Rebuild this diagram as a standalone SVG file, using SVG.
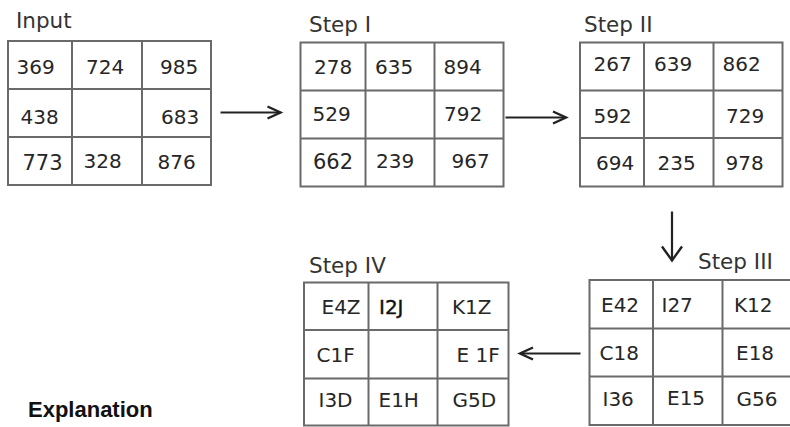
<svg xmlns="http://www.w3.org/2000/svg" width="790" height="427" viewBox="0 0 790 427">
<style>
.grid{fill:#fff;stroke:#6a6a6a;stroke-width:2}
.gl{stroke:#6a6a6a;stroke-width:2}
.c{font-family:"DejaVu Sans",Verdana,sans-serif;font-size:20px;fill:#262626}
.lbl{font-family:"DejaVu Sans",Verdana,sans-serif;font-size:21.5px;fill:#333}
.conn{stroke:#222;stroke-width:2.2;fill:none}
.expl{font-family:"Liberation Sans",Arial,sans-serif;font-size:22px;font-weight:bold;fill:#111}
</style>
<defs>
<marker id="head" markerUnits="userSpaceOnUse" markerWidth="24" markerHeight="24" viewBox="-20 -12 24 24" refX="0" refY="0" orient="auto">
<path d="M-13,-6 L0,0 L-13,6" fill="none" stroke="#222" stroke-width="2.4"/>
</marker>
<marker id="headL" markerUnits="userSpaceOnUse" markerWidth="30" markerHeight="30" viewBox="-20 -15 30 30" refX="0" refY="0" orient="auto">
<path d="M-14,-10 L0,0 L-14,10" fill="none" stroke="#222" stroke-width="2.4"/>
</marker>
</defs>
<rect width="790" height="427" fill="#fff"/>
<g id="input">
<text class="lbl" x="16" y="28">Input</text>
<rect class="grid" x="8" y="41" width="203" height="144"/>
<line class="gl" x1="72" y1="41" x2="72" y2="185"/>
<line class="gl" x1="142" y1="41" x2="142" y2="185"/>
<line class="gl" x1="8" y1="89" x2="211" y2="89"/>
<line class="gl" x1="8" y1="137" x2="211" y2="137"/>
<text class="c" x="16.5" y="74">369</text>
<text class="c" x="86" y="74">724</text>
<text class="c" x="160" y="74">985</text>
<text class="c" x="20.5" y="124">438</text>
<text class="c" x="161" y="124">683</text>
<text class="c" x="22.5" y="169.5" style="font-size:21px">773</text>
<text class="c" x="83.5" y="168">328</text>
<text class="c" x="157.5" y="169">876</text>
</g>
<g id="step1">
<text class="lbl" x="309" y="31.5">Step I</text>
<rect class="grid" x="300.5" y="42.5" width="203" height="144"/>
<line class="gl" x1="365.5" y1="42.5" x2="365.5" y2="186.5"/>
<line class="gl" x1="434.5" y1="42.5" x2="434.5" y2="186.5"/>
<line class="gl" x1="300.5" y1="90.5" x2="503.5" y2="90.5"/>
<line class="gl" x1="300.5" y1="138.5" x2="503.5" y2="138.5"/>
<text class="c" x="314" y="74">278</text>
<text class="c" x="375" y="74">635</text>
<text class="c" x="443.5" y="74">894</text>
<text class="c" x="312.5" y="120.5">529</text>
<text class="c" x="444" y="120.5">792</text>
<text class="c" x="313" y="168.5" style="font-size:21px">662</text>
<text class="c" x="376" y="167.5">239</text>
<text class="c" x="451.5" y="168">967</text>
</g>
<g id="step2">
<text class="lbl" x="584" y="31.5">Step II</text>
<rect class="grid" x="580" y="42.5" width="202.5" height="144"/>
<line class="gl" x1="644" y1="42.5" x2="644" y2="186.5"/>
<line class="gl" x1="713.5" y1="42.5" x2="713.5" y2="186.5"/>
<line class="gl" x1="580" y1="90.5" x2="782.5" y2="90.5"/>
<line class="gl" x1="580" y1="138" x2="782.5" y2="138"/>
<text class="c" x="593.5" y="70.5">267</text>
<text class="c" x="654" y="70.5">639</text>
<text class="c" x="722.5" y="70.5">862</text>
<text class="c" x="593.5" y="122.5">592</text>
<text class="c" x="726" y="122.5">729</text>
<text class="c" x="596" y="170">694</text>
<text class="c" x="657.5" y="170">235</text>
<text class="c" x="725.5" y="170">978</text>
</g>
<g id="step3">
<text class="lbl" x="698" y="269">Step III</text>
<rect class="grid" x="589.5" y="280" width="203" height="145"/>
<line class="gl" x1="653" y1="280" x2="653" y2="425"/>
<line class="gl" x1="722.5" y1="280" x2="722.5" y2="425"/>
<line class="gl" x1="589.5" y1="328.5" x2="792" y2="328.5"/>
<line class="gl" x1="589.5" y1="376.5" x2="792" y2="376.5"/>
<text class="c" x="601" y="311.5">E42</text>
<text class="c" x="661.5" y="311.5">I27</text>
<text class="c" x="734" y="311.5">K12</text>
<text class="c" x="599.5" y="360">C18</text>
<text class="c" x="736" y="360">E18</text>
<text class="c" x="602.5" y="406">I36</text>
<text class="c" x="667" y="405">E15</text>
<text class="c" x="736.5" y="406">G56</text>
</g>
<g id="step4">
<text class="lbl" x="309" y="273">Step IV</text>
<rect class="grid" x="304" y="282.5" width="204.5" height="143"/>
<line class="gl" x1="368.5" y1="282.5" x2="368.5" y2="425.5"/>
<line class="gl" x1="437.5" y1="282.5" x2="437.5" y2="425.5"/>
<line class="gl" x1="304" y1="330" x2="508.5" y2="330"/>
<line class="gl" x1="304" y1="378.5" x2="508.5" y2="378.5"/>
<text class="c" x="321.5" y="313.5">E4Z</text>
<text class="c" x="379" y="313.5" style="fill:#111;stroke:#111;stroke-width:0.4">I2J</text>
<text class="c" x="452" y="313.5">K1Z</text>
<text class="c" x="316.5" y="361.5">C1F</text>
<text class="c" x="456.5" y="361.5">E 1F</text>
<text class="c" x="318.5" y="407">I3D</text>
<text class="c" x="378.5" y="407">E1H</text>
<text class="c" x="452.5" y="407">G5D</text>
</g>
<g id="connectors">
<line class="conn" x1="220.5" y1="112.5" x2="280.5" y2="112.5" marker-end="url(#head)"/>
<line class="conn" x1="505.5" y1="117.5" x2="566" y2="117.5" marker-end="url(#head)"/>
<line class="conn" x1="672" y1="211.5" x2="672" y2="260.5" marker-end="url(#headL)"/>
<line class="conn" x1="580.5" y1="353.5" x2="520" y2="353.5" marker-end="url(#head)"/>
</g>
<g id="explanation">
<text class="expl" x="28" y="416.5">Explanation</text>
</g>
</svg>
